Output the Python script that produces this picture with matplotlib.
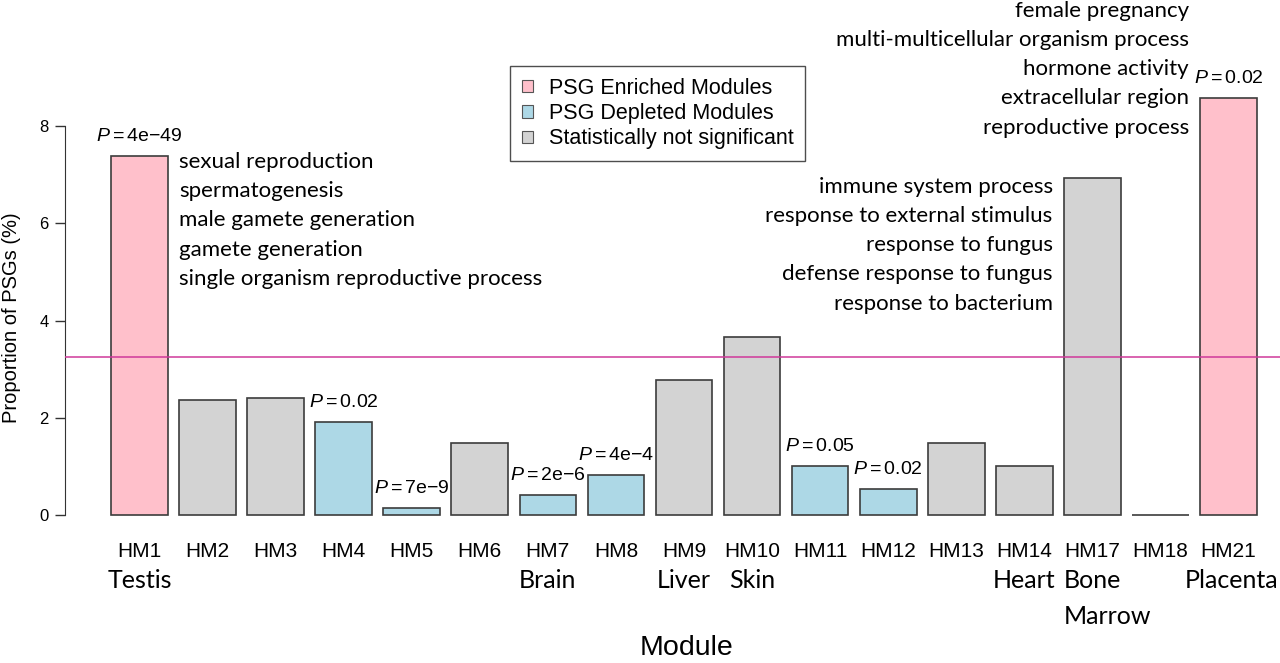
"""
Proportion of PSGs per human module (bar chart)
"""
import matplotlib
matplotlib.use("Agg")
import matplotlib.pyplot as plt
from matplotlib.patches import Patch

modules = ["HM1", "HM2", "HM3", "HM4", "HM5", "HM6", "HM7", "HM8", "HM9",
           "HM10", "HM11", "HM12", "HM13", "HM14", "HM17", "HM18", "HM21"]
tissues = ["Testis", "", "", "", "", "", "Brain", "", "Liver", "Skin",
           "", "", "", "Heart", "Bone\nMarrow", "", "Placenta"]
proportions = [7.39, 2.37, 2.41, 1.91, 0.14, 1.48, 0.41, 0.82, 2.78,
               3.66, 1.01, 0.53, 1.48, 1.01, 6.93, 0.0, 8.59]
status = ["enriched", "ns", "ns", "depleted", "depleted", "ns", "depleted",
          "depleted", "ns", "ns", "depleted", "depleted", "ns", "ns", "ns",
          "ns", "enriched"]
p_values = ["4e\u221249", "", "", "0.02", "7e\u22129", "", "2e\u22126",
            "4e\u22124", "", "", "0.05", "0.02", "", "", "", "", "0.02"]
overall_proportion = 3.25

testis_terms = ["sexual reproduction", "spermatogenesis",
                "male gamete generation", "gamete generation",
                "single organism reproductive process"]
marrow_terms = ["immune system process", "response to external stimulus",
                "response to fungus", "defense response to fungus",
                "response to bacterium"]
placenta_terms = ["female pregnancy", "multi-multicellular organism process",
                  "hormone activity", "extracellular region",
                  "reproductive process"]

colors = {"enriched": "#FFC0CB", "depleted": "#ADD8E6", "ns": "#D3D3D3"}
legend_labels = {"enriched": "PSG Enriched Modules",
                 "depleted": "PSG Depleted Modules",
                 "ns": "Statistically not significant"}

ARIAL = "Liberation Sans"
CALIBRI = "Lato"
plt.rcParams["font.family"] = ARIAL
plt.rcParams["mathtext.fontset"] = "custom"
plt.rcParams["mathtext.rm"] = ARIAL
plt.rcParams["mathtext.it"] = ARIAL + ":italic"

W, H = 1280, 663
fig = plt.figure(figsize=(W / 100, H / 100), dpi=100)
# R barplot geometry: width 1, space 0.2, x range extended by 4%
x_left, x_right = -0.608, 21.208
ax_l, ax_r, ax_b = 65.3, 1302.7, 515
px_per_y = 48.6
ax = fig.add_axes([ax_l / W, (H - ax_b) / H, (ax_r - ax_l) / W, ax_b / H])
ax.set_xlim(x_left, x_right)
ax.set_ylim(0, ax_b / px_per_y)

centers = [0.7 + 1.2 * i for i in range(len(modules))]
ax.bar(centers, proportions, width=1.0,
       color=[colors[s] for s in status], edgecolor="#3c3c3c",
       linewidth=1.2, clip_on=False, zorder=2)
ax.axhline(overall_proportion, color="#D0399A", linewidth=1.1, zorder=3)

for xc, h, p in zip(centers, proportions, p_values):
    if p:
        ax.text(xc, h + 0.4, r"$P=$" + p, ha="center", va="center",
                fontsize=14, zorder=4)

# tissue names under the module labels
tissue_y = -(580 - ax_b) / px_per_y
line_gap = 36 / px_per_y
for xc, t in zip(centers, tissues):
    if not t:
        continue
    lines = t.split("\n")
    if len(lines) > 1:
        for k, line in enumerate(lines):
            ax.text(xc - 0.5, tissue_y - k * line_gap, line, ha="left",
                    va="center", fontsize=18, family=CALIBRI, clip_on=False)
    elif t == "Placenta":
        ax.text(xc + 0.88, tissue_y, t, ha="right", va="center",
                fontsize=18, family=CALIBRI, clip_on=False)
    else:
        ax.text(xc, tissue_y, t, ha="center", va="center", fontsize=18,
                family=CALIBRI, clip_on=False)

step = 0.6
for k, term in enumerate(testis_terms):
    ax.text(centers[0] + 0.7, 7.26 - k * step, term, ha="left", va="center",
            fontsize=16, family=CALIBRI)
for k, term in enumerate(marrow_terms):
    ax.text(centers[14] - 0.7, 6.75 - k * step, term, ha="right",
            va="center", fontsize=16, family=CALIBRI)
for k, term in enumerate(placenta_terms):
    ax.text(centers[16] - 0.7, 10.37 - k * step, term, ha="right",
            va="center", fontsize=16, family=CALIBRI)

# axes styling in the spirit of base R
for side in ["top", "right", "bottom"]:
    ax.spines[side].set_visible(False)
ax.spines["left"].set_bounds(0, 8)
ax.spines["left"].set_color("#333333")
ax.set_yticks([0, 2, 4, 6, 8])
ax.tick_params(axis="y", length=7, width=1, color="#333333", pad=5,
               labelsize=12)
ax.set_xticks(centers, modules)
ax.tick_params(axis="x", length=0, pad=26, labelsize=15)
for lbl in ax.get_xticklabels():
    lbl.set_va("center")

ax.set_ylabel("Proportion of PSGs (%)", fontsize=14.5)
ax.yaxis.set_label_coords((12 - ax_l) / (ax_r - ax_l), (ax_b - 318) / ax_b)
ax.yaxis.label.set_va("center")
ax.set_xlabel("Module", fontsize=20.5)
ax.xaxis.set_label_coords((687 - ax_l) / (ax_r - ax_l), -(648 - ax_b) / ax_b)
ax.xaxis.label.set_va("center")

handles = [Patch(facecolor=colors[k], edgecolor="#555555", linewidth=0.8,
                 label=legend_labels[k]) for k in ["enriched", "depleted", "ns"]]
leg = fig.legend(handles=handles, loc="upper left",
                 bbox_to_anchor=(510 / W, 1 - 66 / H), fontsize=15.5,
                 frameon=True, fancybox=False, borderaxespad=0,
                 handlelength=0.5, handleheight=0.5, handletextpad=0.75,
                 labelspacing=0.2, borderpad=0.55)
leg.get_frame().set_edgecolor("#222222")
leg.get_frame().set_linewidth(1.0)

fig.savefig("out.png", dpi=100)
